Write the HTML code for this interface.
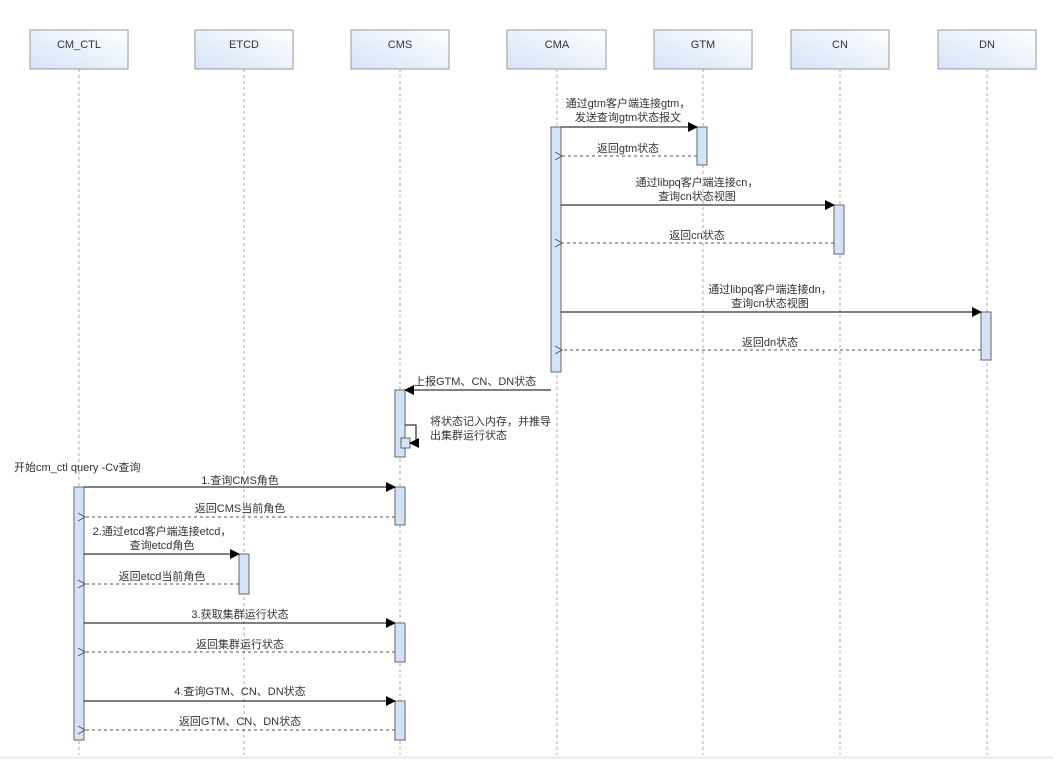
<!DOCTYPE html>
<html><head><meta charset="utf-8"><style>
html,body{margin:0;padding:0;background:#fff;}
svg text{font-family:"Liberation Sans","Noto Sans CJK SC",sans-serif;font-size:11px;fill:#333;}
</style></head><body>
<svg width="1053" height="759" viewBox="0 0 1053 759" xmlns="http://www.w3.org/2000/svg">
<defs>
<linearGradient id="g" x1="0" y1="1" x2="1" y2="0"><stop offset="0" stop-color="#d4e4f8"/><stop offset="1" stop-color="#ffffff"/></linearGradient>
<marker id="af" markerWidth="10" markerHeight="10" refX="9" refY="5" orient="auto" markerUnits="userSpaceOnUse"><path d="M0,0 L10,5 L0,10 Z" fill="#000"/></marker>
<marker id="ao" markerWidth="10" markerHeight="10" refX="1" refY="5" orient="auto" markerUnits="userSpaceOnUse"><path d="M8,1 L1,5 L8,9" fill="none" stroke="#555" stroke-width="1"/></marker>
</defs>
<rect x="0" y="756" width="1053" height="3" fill="#f0f0f0"/>
<g stroke="#aaa" stroke-dasharray="3,3" stroke-width="1">
<line x1="79" y1="69" x2="79" y2="755"/><line x1="244" y1="69" x2="244" y2="755"/>
<line x1="400" y1="69" x2="400" y2="755"/><line x1="557" y1="69" x2="557" y2="755"/>
<line x1="703" y1="69" x2="703" y2="755"/><line x1="840" y1="69" x2="840" y2="755"/>
<line x1="987" y1="69" x2="987" y2="755"/>
</g>
<g stroke="#999" fill="url(#g)">
<rect x="30" y="30" width="98" height="39"/><rect x="195" y="30" width="98" height="39"/>
<rect x="351" y="30" width="98" height="39"/><rect x="507" y="30" width="99" height="39"/>
<rect x="654" y="30" width="98" height="39"/><rect x="791" y="30" width="98" height="39"/>
<rect x="938" y="30" width="98" height="39"/>
</g>
<g text-anchor="middle">
<text x="79" y="48">CM_CTL</text><text x="244" y="48">ETCD</text><text x="400" y="48">CMS</text>
<text x="557" y="48">CMA</text><text x="703" y="48">GTM</text><text x="840" y="48">CN</text><text x="987" y="48">DN</text>
</g>
<g fill="#d4e4f8" stroke="#666">
<rect x="551" y="127" width="10" height="245"/>
<rect x="697" y="127" width="10" height="38"/>
<rect x="834" y="205" width="10" height="49"/>
<rect x="981" y="312" width="10" height="48"/>
<rect x="395" y="390" width="10" height="67"/>
<rect x="401" y="438" width="9" height="10"/>
<rect x="74" y="487" width="10" height="253"/>
<rect x="395" y="487" width="10" height="38"/>
<rect x="239" y="554" width="10" height="40"/>
<rect x="395" y="623" width="10" height="39"/>
<rect x="395" y="701" width="10" height="39"/>
</g>
<g stroke="#000" stroke-width="1" fill="none" marker-end="url(#af)">
<line x1="561" y1="127" x2="697" y2="127"/>
<line x1="561" y1="205" x2="834" y2="205"/>
<line x1="561" y1="312" x2="981" y2="312"/>
<line x1="551" y1="390" x2="405" y2="390"/>
<path d="M405,425 L416,425 L416,443 L410,443"/>
<line x1="84" y1="487" x2="395" y2="487"/>
<line x1="84" y1="554" x2="239" y2="554"/>
<line x1="84" y1="623" x2="395" y2="623"/>
<line x1="84" y1="701" x2="395" y2="701"/>
</g>
<g stroke="#555" stroke-width="1" stroke-dasharray="3,3" fill="none" marker-end="url(#ao)">
<line x1="697" y1="156" x2="562" y2="156"/>
<line x1="834" y1="243" x2="562" y2="243"/>
<line x1="981" y1="350" x2="562" y2="350"/>
<line x1="395" y1="517" x2="85" y2="517"/>
<line x1="239" y1="584" x2="85" y2="584"/>
<line x1="395" y1="652" x2="85" y2="652"/>
<line x1="395" y1="730" x2="85" y2="730"/>
</g>
<g text-anchor="middle">
<text x="628" y="107">通过gtm客户端连接gtm，</text><text x="628" y="121">发送查询gtm状态报文</text>
<text x="628" y="152">返回gtm状态</text>
<text x="697" y="186">通过libpq客户端连接cn，</text><text x="697" y="200">查询cn状态视图</text>
<text x="697" y="239">返回cn状态</text>
<text x="770" y="293">通过libpq客户端连接dn，</text><text x="770" y="307">查询cn状态视图</text>
<text x="770" y="346">返回dn状态</text>
<text x="240" y="484">1.查询CMS角色</text>
<text x="240" y="512">返回CMS当前角色</text>
<text x="162" y="535">2.通过etcd客户端连接etcd，</text><text x="162" y="549">查询etcd角色</text>
<text x="162" y="580">返回etcd当前角色</text>
<text x="240" y="618">3.获取集群运行状态</text>
<text x="240" y="648">返回集群运行状态</text>
<text x="240" y="695">4.查询GTM、CN、DN状态</text>
<text x="240" y="725">返回GTM、CN、DN状态</text>
</g>
<text x="414" y="385">上报GTM、CN、DN状态</text>
<text x="430" y="425">将状态记入内存，并推导</text>
<text x="430" y="439">出集群运行状态</text>
<text x="14" y="471">开始cm_ctl query -Cv查询</text>
</svg>
</body></html>
